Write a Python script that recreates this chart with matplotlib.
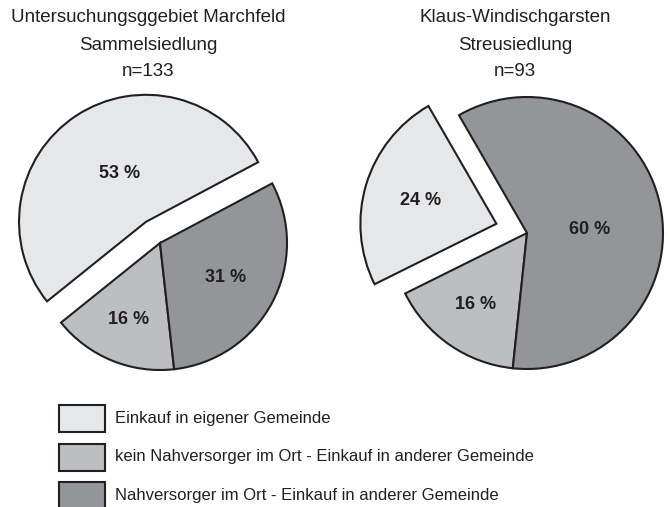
import numpy as np
import matplotlib
matplotlib.use("Agg")
import matplotlib.pyplot as plt

plt.rcParams['font.family'] = ['Liberation Sans', 'DejaVu Sans']

# ---- data ----
categories = ["Einkauf in eigener Gemeinde",
              "kein Nahversorger im Ort - Einkauf in anderer Gemeinde",
              "Nahversorger im Ort - Einkauf in anderer Gemeinde"]
marchfeld_values = [53, 16, 31]
klaus_values = [24, 16, 60]
marchfeld_title = ["Untersuchungsggebiet Marchfeld", "Sammelsiedlung", "n=133"]
klaus_title = ["Klaus-Windischgarsten", "Streusiedlung", "n=93"]

# ---- style ----
colors = ["#e6e7e8", "#bcbec0", "#939598"]
edge = "#231f20"
W, H = 670, 507

fig = plt.figure(figsize=(W / 100, H / 100), dpi=100)
ax = fig.add_axes([0, 0, 1, 1])

def py(y):
    return H - y

pies = [
    dict(vals=marchfeld_values, center=(160, py(243)), r=127, start=28, explode=0.20,
         lab=[(0.43, -5), (0.65, 0), (0.58, 0)]),
    dict(vals=klaus_values, center=(527, py(233)), r=136, start=120, explode=0.235,
         lab=[(0.58, 0), (0.65, -1), (0.46, -9)]),
]

for p in pies:
    wedges, texts, autotexts = ax.pie(
        p["vals"], colors=colors, startangle=p["start"], counterclock=True,
        center=p["center"], radius=p["r"], explode=[p["explode"] * p["r"], 0, 0],
        autopct=lambda v: f"{v:.0f} %",
        wedgeprops=dict(edgecolor=edge, linewidth=1.5),
        textprops=dict(fontsize=13, fontweight="bold", color="#231f20"))
    for w, t, (d, off) in zip(wedges, autotexts, p["lab"]):
        th = np.deg2rad((w.theta1 + w.theta2) / 2 + off)
        cx, cy = w.center
        t.set_position((cx + w.r * d * np.cos(th), cy + w.r * d * np.sin(th)))
        t.set_ha("center")
        t.set_va("center")

ax.set_xlim(0, W)
ax.set_ylim(0, H)
ax.set_aspect("auto")
ax.axis("off")

# titles
for lines, x in [(marchfeld_title, 148), (klaus_title, 515)]:
    for i, line in enumerate(lines):
        ax.text(x, py(18 + 27 * i), line, ha="center", va="center",
                fontsize=13.5, color="#231f20")

# legend
for i, (cat, col) in enumerate(zip(categories, colors)):
    yc = 418.5 + 38.5 * i
    ax.add_patch(plt.Rectangle((59, py(yc + 13.5)), 46, 27, facecolor=col,
                               edgecolor=edge, linewidth=1.5, clip_on=False))
    ax.text(115, py(yc), cat, ha="left", va="center", fontsize=12, color="#231f20")

fig.savefig("out.png", dpi=100)
